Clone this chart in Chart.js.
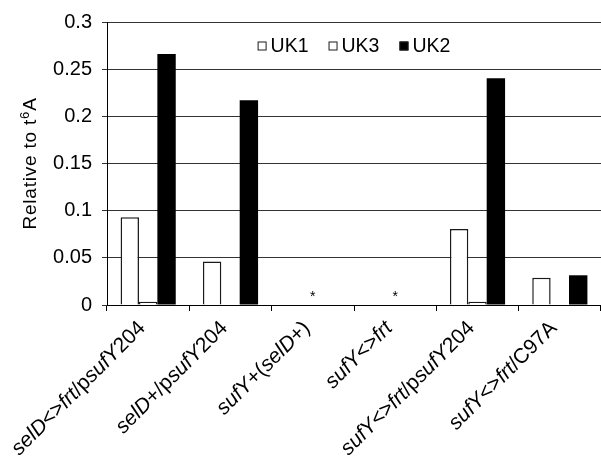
<!DOCTYPE html>
<html>
<head>
<meta charset="utf-8">
<script src="https://cdn.jsdelivr.net/npm/chart.js@4/dist/chart.umd.min.js"></script>
<style>
  html, body { margin: 0; padding: 0; background: #fff; }
  canvas { display: block; }
</style>
</head>
<body>
<canvas id="chart" width="601" height="461"></canvas>
<script>
// Strains / constructs on the x axis
const categories = [
  'selD<>frt/psufY204',
  'selD+/psufY204',
  'sufY+(selD+)',
  'sufY<>frt',
  'sufY<>frt/psufY204',
  'sufY<>frt/C97A'
];
// Nucleoside amounts relative to t6A
const seriesNames = ['UK1', 'UK3', 'UK2'];
const uk1Values = [0.093, 0.046, 0, 0, 0.0805, 0.029];
const uk3Values = [0.0035, 0, 0, 0, 0.0035, 0];
const uk2Values = [0.266, 0.217, 0, 0, 0.2405, 0.0315];
// Marker shown where nothing was detected
const notDetected = ['', '', '*', '*', '', ''];
// Y axis
const yTickValues = [0, 0.05, 0.1, 0.15, 0.2, 0.25, 0.3];
const yTickLabels = ['0', '0.05', '0.1', '0.15', '0.2', '0.25', '0.3'];
const yAxisTitle = ['Relative to t', '6', 'A'];

const FONT = '"Liberation Sans", Arial, Helvetica, sans-serif';
const italicNames = /^(selD|sufY|frt)$/;

const openStyle = { backgroundColor: '#ffffff', borderColor: '#1a1a1a', borderWidth: 1.5 };
const solidStyle = { backgroundColor: '#000000', borderColor: '#000000', borderWidth: 0 };

// Legend drawn inside the plot area, centred at the top
const insideLegend = {
  id: 'insideLegend',
  afterDraw(chart) {
    const ctx = chart.ctx;
    const area = chart.chartArea;
    const box = 9, gap = 4, itemGap = 20;
    ctx.save();
    ctx.font = '19.5px ' + FONT;
    const items = chart.data.datasets.map(ds => ({
      label: ds.label,
      fill: ds.backgroundColor,
      w: box + gap + ctx.measureText(ds.label).width
    }));
    const total = items.reduce((s, it) => s + it.w, 0) + itemGap * (items.length - 1);
    let x = (area.left + area.right) / 2 - total / 2;
    const cy = area.top + 25;
    ctx.textBaseline = 'middle';
    ctx.textAlign = 'left';
    items.forEach(it => {
      ctx.fillStyle = it.fill;
      ctx.fillRect(x, cy - box / 2 - 1, box, box);
      ctx.strokeStyle = '#1a1a1a';
      ctx.lineWidth = 1;
      ctx.strokeRect(x + 0.5, cy - box / 2 - 0.5, box - 1, box - 1);
      ctx.fillStyle = '#000';
      ctx.fillText(it.label, x + box + gap, cy);
      x += it.w + itemGap;
    });
    ctx.restore();
  }
};

// Rotated category labels with gene names in italics
const categoryLabels = {
  id: 'categoryLabels',
  afterDraw(chart) {
    const ctx = chart.ctx;
    const xs = chart.scales.x;
    const base = chart.chartArea.bottom;
    const size = 21;
    categories.forEach((lab, i) => {
      const segs = lab.split(/(selD|sufY|frt)/).filter(s => s.length).map(s => ({
        t: s, font: (italicNames.test(s) ? 'italic ' : '') + size + 'px ' + FONT
      }));
      let total = 0;
      segs.forEach(s => { ctx.font = s.font; s.w = ctx.measureText(s.t).width; total += s.w; });
      ctx.save();
      ctx.translate(xs.getPixelForValue(i) - 6, base + 20);
      ctx.rotate(-Math.PI / 4);
      ctx.fillStyle = '#000';
      ctx.textBaseline = 'middle';
      ctx.textAlign = 'left';
      let cx = -total;
      segs.forEach(s => { ctx.font = s.font; ctx.fillText(s.t, cx, 0); cx += s.w; });
      ctx.restore();
    });
  }
};

// Asterisks above the axis for samples with no signal
const markers = {
  id: 'markers',
  afterDatasetsDraw(chart) {
    const ctx = chart.ctx;
    const xs = chart.scales.x, ys = chart.scales.y;
    ctx.save();
    ctx.font = '14px ' + FONT;
    ctx.fillStyle = '#000';
    ctx.textAlign = 'center';
    ctx.textBaseline = 'alphabetic';
    notDetected.forEach((m, i) => {
      if (m) ctx.fillText(m, xs.getPixelForValue(i), ys.getPixelForValue(0) - 4);
    });
    ctx.restore();
  }
};

// Y axis title with superscript
const yTitle = {
  id: 'yTitle',
  afterDraw(chart) {
    const ctx = chart.ctx;
    const area = chart.chartArea;
    const parts = [
      { t: yAxisTitle[0], font: '19px ' + FONT, dy: 0 },
      { t: yAxisTitle[1], font: '13px ' + FONT, dy: -6 },
      { t: yAxisTitle[2], font: '19px ' + FONT, dy: 0 }
    ];
    ctx.save();
    if ('letterSpacing' in ctx) ctx.letterSpacing = '0.8px';
    let total = 0;
    parts.forEach(p => { ctx.font = p.font; p.w = ctx.measureText(p.t).width; total += p.w; });
    ctx.translate(31, (area.top + area.bottom) / 2);
    ctx.rotate(-Math.PI / 2);
    ctx.fillStyle = '#000';
    ctx.textBaseline = 'middle';
    ctx.textAlign = 'left';
    let cx = -total / 2;
    parts.forEach(p => { ctx.font = p.font; ctx.fillText(p.t, cx, p.dy); cx += p.w; });
    ctx.restore();
  }
};

new Chart(document.getElementById('chart'), {
  type: 'bar',
  data: {
    labels: categories,
    datasets: [
      Object.assign({ label: seriesNames[0], data: uk1Values }, openStyle),
      Object.assign({ label: seriesNames[1], data: uk3Values }, openStyle),
      Object.assign({ label: seriesNames[2], data: uk2Values }, solidStyle)
    ]
  },
  options: {
    responsive: false,
    animation: false,
    devicePixelRatio: 1,
    layout: { padding: { top: 18, right: 0, left: 0, bottom: 0 } },
    datasets: { bar: { categoryPercentage: 0.67, barPercentage: 1 } },
    plugins: {
      legend: { display: false },
      tooltip: { enabled: false }
    },
    scales: {
      x: {
        ticks: { display: false },
        grid: { offset: true, drawOnChartArea: false, drawTicks: true, tickLength: 6, color: '#000', lineWidth: 1 },
        border: { color: '#000', width: 1 },
        afterFit(scale) { scale.height = 156; }
      },
      y: {
        min: 0,
        max: 0.3,
        afterBuildTicks(scale) { scale.ticks = yTickValues.map(v => ({ value: v })); },
        ticks: {
          font: { family: FONT, size: 20 },
          color: '#000',
          padding: 10,
          callback: (v) => { const k = yTickValues.findIndex(t => Math.abs(t - v) < 1e-9); return k >= 0 ? yTickLabels[k] : ''; }
        },
        grid: { color: '#333', lineWidth: 1, tickLength: 5, drawTicks: true },
        border: { color: '#000', width: 1 },
        afterFit(scale) { scale.width = 107; }
      }
    }
  },
  plugins: [insideLegend, categoryLabels, markers, yTitle]
});
</script>
</body>
</html>
